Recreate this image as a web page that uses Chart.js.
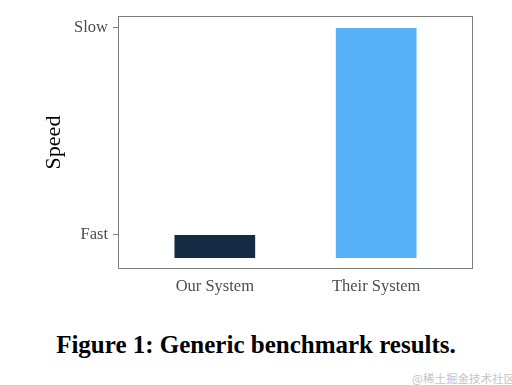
<!DOCTYPE html>
<html>
<head>
<meta charset="utf-8">
<script src="https://cdn.jsdelivr.net/npm/chart.js@4/dist/chart.umd.min.js"></script>
<style>
  html, body { margin: 0; padding: 0; background: #ffffff; }
  body { width: 512px; height: 385px; position: relative; overflow: hidden; }
  #wrap { position: absolute; left: 0; top: 0; width: 512px; height: 310px; }
  #caption { position: absolute; left: 0; width: 512px; top: 330px; text-align: center;
    font-family: "Liberation Serif", "DejaVu Serif", serif; font-weight: bold; font-size: 25px;
    line-height: 30px; color: #000; white-space: nowrap; }
  #mark { position: absolute; left: 412px; top: 370px; font-family: "Noto Sans CJK SC", sans-serif;
    font-size: 11.5px; line-height: 16px; color: #c4c4c4; white-space: nowrap; }
</style>
</head>
<body>
<div id="wrap"><canvas id="c"></canvas></div>
<div id="caption">Figure 1: Generic benchmark results.</div>
<div id="mark">@稀土掘金技术社区</div>
<script>
const categories = ['Our System', 'Their System'];
const speedValues = [1, 10];
const barColors = ['#132B43', '#56B1F7'];
const speedTickValues = [1, 10];
const speedTickLabels = ['Fast', 'Slow'];
const axisTitle = 'Speed';

const frame = {
  id: 'frame',
  afterDraw(chart) {
    const a = chart.chartArea, ctx = chart.ctx;
    ctx.save();
    ctx.strokeStyle = '#7f7f7f';
    ctx.lineWidth = 1;
    ctx.strokeRect(Math.round(a.left) + 0.5, Math.round(a.top) + 0.5,
      Math.round(a.right - a.left) - 1, Math.round(a.bottom - a.top) - 1);
    ctx.restore();
  }
};

const serif = '"Liberation Serif", "Times New Roman", serif';

new Chart(document.getElementById('c'), {
  type: 'bar',
  data: {
    datasets: [{
      data: categories.map((c, i) => ({ x: i + 1, y: speedValues[i] })),
      backgroundColor: barColors,
      borderWidth: 0,
      barPercentage: 0.5,
      categoryPercentage: 1.0
    }]
  },
  options: {
    responsive: true,
    maintainAspectRatio: false,
    animation: false,
    layout: { padding: { left: 0, right: 39, top: 16, bottom: 0 } },
    plugins: { legend: { display: false }, tooltip: { enabled: false } },
    scales: {
      x: {
        type: 'linear',
        offset: false,
        min: 0.4, max: 2.6,
        afterBuildTicks: s => { s.ticks = categories.map((c, i) => ({ value: i + 1 })); },
        afterFit: s => { s.height = 41; },
        ticks: {
          autoSkip: false, maxRotation: 0, padding: 8,
          color: '#4d4d4d',
          font: { family: serif, size: 16.5 },
          callback: (v) => categories[Math.round(v) - 1]
        },
        grid: { display: false, drawTicks: false, offset: false },
        border: { display: false }
      },
      y: {
        min: -0.48, max: 10.52,
        afterBuildTicks: s => { s.ticks = speedTickValues.map(v => ({ value: v })); },
        afterFit: s => { s.width = 118; },
        ticks: {
          autoSkip: false, padding: 5,
          color: '#4d4d4d',
          font: { family: serif, size: 16.5 },
          callback: (v) => speedTickLabels[speedTickValues.indexOf(v)]
        },
        grid: { drawOnChartArea: false, drawTicks: true, tickLength: 5, color: '#7f7f7f', lineWidth: 1 },
        border: { display: false },
        title: {
          display: true, text: axisTitle, color: '#000',
          font: { family: serif, size: 22 },
          padding: { top: 41, bottom: 0 }
        }
      }
    }
  },
  plugins: [frame]
});
</script>
</body>
</html>
